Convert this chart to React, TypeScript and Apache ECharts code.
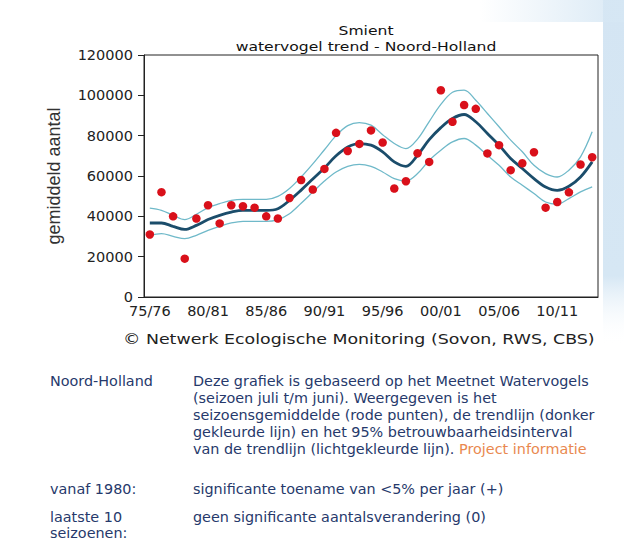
import React, { useEffect, useRef } from "react";
import * as echarts from "echarts";

const seasons = [
  "75/76", "76/77", "77/78", "78/79", "79/80", "80/81", "81/82", "82/83", "83/84", "84/85",
  "85/86", "86/87", "87/88", "88/89", "89/90", "90/91", "91/92", "92/93", "93/94", "94/95",
  "95/96", "96/97", "97/98", "98/99", "99/00", "00/01", "01/02", "02/03", "03/04", "04/05",
  "05/06", "06/07", "07/08", "08/09", "09/10", "10/11", "11/12", "12/13", "13/14",
];

const seasonMeans = [
  31000, 52000, 40000, 19000, 38900, 45500, 36500, 45500, 45000, 44300,
  40000, 38900, 49100, 58000, 53300, 63500, 81400, 72400, 75900, 82600,
  76600, 53800, 57400, 71300, 67000, 102500, 86900, 95200, 93300, 71200,
  75300, 62900, 66300, 71800, 44300, 47100, 51900, 65700, 69300,
];

const trend = [
  36700, 36700, 35000, 33500, 35500, 38400, 40500, 42100, 43000, 43000,
  43000, 43800, 47900, 53000, 58500, 64000, 70000, 74400, 76100, 75300,
  72000, 67000, 64800, 70300, 78000, 84000, 88500, 90500, 86900, 81100,
  75300, 68700, 63700, 58700, 54600, 52900, 54900, 59500, 67000,
];

const upperCI = [
  44100, 43000, 40500, 38400, 41000, 44300, 46300, 47900, 48400, 48400,
  48400, 49900, 53800, 59500, 66000, 73000, 80000, 85000, 86500, 85200,
  80500, 76100, 73600, 78300, 87000, 95500, 101500, 102600, 97600, 91000,
  84400, 77800, 72000, 65300, 61200, 59500, 62900, 69500, 81900,
];

const lowerCI = [
  30600, 31400, 30100, 28900, 30600, 33000, 35000, 36700, 37500, 37500,
  37500, 38400, 41300, 46500, 52000, 57500, 62000, 64800, 65800, 64800,
  62000, 58700, 57500, 61200, 67800, 72800, 76900, 78600, 75300, 70300,
  65300, 59500, 55400, 51300, 47100, 46000, 48800, 52100, 54600,
];

const yMin = 0;
const yMax = 120000;
const yStep = 20000;

const titleLines = ["Smient", "watervogel trend - Noord-Holland"];
const yAxisName = "gemiddeld aantal";
const copyright = "\u00A9 Netwerk Ecologische Monitoring (Sovon, RWS, CBS)";
const infoRegion = "Noord-Holland";
const infoLines = [
  "Deze grafiek is gebaseerd op het Meetnet Watervogels",
  "(seizoen juli t/m juni). Weergegeven is het",
  "seizoensgemiddelde (rode punten), de trendlijn (donker",
  "gekleurde lijn) en het 95% betrouwbaarheidsinterval",
  "van de trendlijn (lichtgekleurde lijn).",
];
const infoLink = "Project informatie";
const trendRows = [
  { label: ["vanaf 1980:"], text: "significante toename van <5% per jaar (+)" },
  { label: ["laatste 10", "seizoenen:"], text: "geen significante aantalsverandering (0)" },
];

const TEXT_BLUE = "#26396b";
const BODY_FONT = "DejaVu Sans";
const BODY_SIZE = 13.5;
const BODY_SCALE = 1.065;

export default function App() {
  const ref = useRef<HTMLDivElement>(null);

  useEffect(() => {
    document.body.style.margin = "0";
    if (!ref.current) return;
    const chart = echarts.init(ref.current, undefined, { renderer: "svg" });
    const bodyFont = `${BODY_SIZE}px '${BODY_FONT}'`;

    const graphic: any[] = [
      {
        type: "rect",
        shape: { x: 603, y: 0, width: 21, height: 345 },
        silent: true,
        style: {
          fill: new echarts.graphic.LinearGradient(0, 0, 0, 1, [
            { offset: 0, color: "#d4e5f3" },
            { offset: 0.8, color: "#d6e7f4" },
            { offset: 1, color: "rgba(255,255,255,0)" },
          ]),
        },
      },
      {
        type: "rect",
        shape: { x: 480, y: 0, width: 144, height: 22 },
        silent: true,
        style: {
          fill: new echarts.graphic.LinearGradient(0, 0, 1, 0, [
            { offset: 0, color: "rgba(214,231,244,0)" },
            { offset: 1, color: "rgba(214,231,244,0.9)" },
          ]),
        },
      },
      {
        type: "text",
        x: 366,
        y: 30,
        scaleX: 1.2,
        style: {
          text: titleLines[0],
          font: `13px '${BODY_FONT}'`,
          fill: "#111",
          textAlign: "center",
          textVerticalAlign: "middle",
        },
      },
      {
        type: "text",
        x: 366,
        y: 46,
        scaleX: 1.2,
        style: {
          text: titleLines[1],
          font: `13px '${BODY_FONT}'`,
          fill: "#111",
          textAlign: "center",
          textVerticalAlign: "middle",
        },
      },
      {
        type: "text",
        x: 123,
        y: 339,
        scaleX: 1.2,
        style: {
          text: copyright,
          font: `14.5px '${BODY_FONT}'`,
          fill: "#222",
          textAlign: "left",
          textVerticalAlign: "middle",
        },
      },
      {
        type: "text",
        x: 50,
        y: 381,
        scaleX: BODY_SCALE,
        style: {
          text: infoRegion,
          font: bodyFont,
          fill: TEXT_BLUE,
          textVerticalAlign: "middle",
        },
      },
    ];

    infoLines.forEach((line, i) => {
      const last = i === infoLines.length - 1;
      graphic.push({
        type: "text",
        x: 193,
        y: 381 + i * 17,
        scaleX: BODY_SCALE,
        style: last
          ? {
              text: `{a|${line}} {b|${infoLink}}`,
              font: bodyFont,
              textVerticalAlign: "middle",
              rich: {
                a: { fill: TEXT_BLUE, font: bodyFont },
                b: { fill: "#e9884f", font: bodyFont },
              },
            }
          : {
              text: line,
              font: bodyFont,
              fill: TEXT_BLUE,
              textVerticalAlign: "middle",
            },
      });
    });

    const rowY = [489, 517];
    trendRows.forEach((row, r) => {
      row.label.forEach((l, j) => {
        graphic.push({
          type: "text",
          x: 50,
          y: rowY[r] + j * 16,
          scaleX: BODY_SCALE,
          style: {
            text: l,
            font: bodyFont,
            fill: TEXT_BLUE,
            textVerticalAlign: "middle",
          },
        });
      });
      graphic.push({
        type: "text",
        x: 193,
        y: rowY[r],
        scaleX: BODY_SCALE,
        style: {
          text: row.text,
          font: bodyFont,
          fill: TEXT_BLUE,
          textVerticalAlign: "middle",
        },
      });
    });

    chart.setOption({
      animation: false,
      backgroundColor: "#ffffff",
      grid: {
        left: 144,
        right: 26,
        top: 55,
        bottom: 256,
        show: true,
        borderColor: "#222",
        borderWidth: 1,
        backgroundColor: "transparent",
      },
      xAxis: {
        type: "category",
        data: seasons,
        boundaryGap: true,
        axisLine: { lineStyle: { color: "#222", width: 1 } },
        axisTick: { alignWithLabel: true, interval: 4, length: 6, lineStyle: { color: "#222" } },
        axisLabel: {
          interval: 4,
          margin: 6,
          fontSize: 14.5,
          fontFamily: BODY_FONT,
          color: "#222",
        },
        splitLine: { show: false },
      },
      yAxis: {
        type: "value",
        min: yMin,
        max: yMax,
        interval: yStep,
        name: yAxisName,
        nameLocation: "middle",
        nameRotate: 90,
        nameGap: 81,
        nameTextStyle: { fontSize: 18, fontFamily: "Liberation Sans", color: "#333" },
        axisLine: { show: true, lineStyle: { color: "#222", width: 1 } },
        axisTick: { show: true, length: 6, lineStyle: { color: "#222" } },
        axisLabel: {
          margin: 11,
          fontSize: 14.5,
          fontFamily: BODY_FONT,
          color: "#222",
          formatter: (v: number) => String(v),
        },
        splitLine: { show: false },
      },
      series: [
        {
          type: "line",
          data: upperCI,
          smooth: 0.35,
          symbol: "none",
          lineStyle: { color: "#6fb9c9", width: 1.3 },
          z: 2,
        },
        {
          type: "line",
          data: lowerCI,
          smooth: 0.35,
          symbol: "none",
          lineStyle: { color: "#6fb9c9", width: 1.3 },
          z: 2,
        },
        {
          type: "line",
          data: trend,
          smooth: 0.35,
          symbol: "none",
          lineStyle: { color: "#1b4d6b", width: 2.8 },
          z: 3,
        },
        {
          type: "scatter",
          data: seasonMeans,
          symbol: "circle",
          symbolSize: 8.5,
          itemStyle: { color: "#d9101a", opacity: 1 },
          z: 4,
        },
      ],
      graphic,
    });

    return () => chart.dispose();
  }, []);

  return <div ref={ref} style={{ width: 624, height: 553 }} />;
}
